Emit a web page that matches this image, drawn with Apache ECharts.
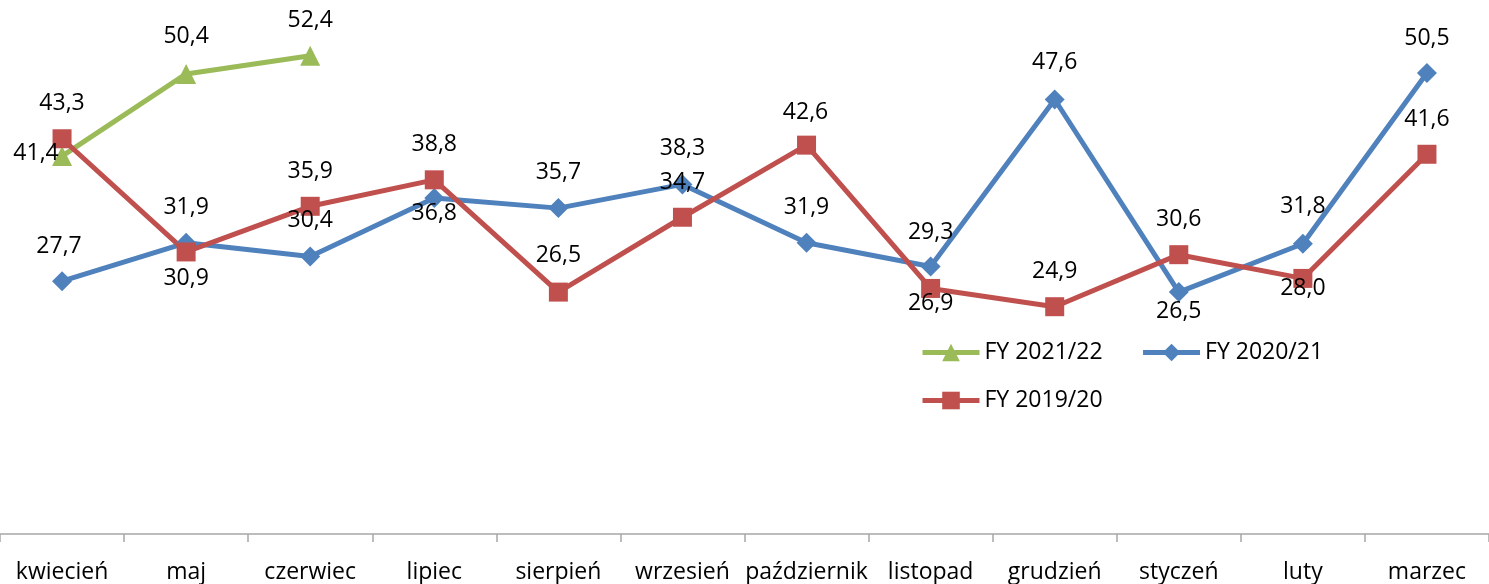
<!DOCTYPE html>
<html>
<head>
<meta charset="utf-8">
<script src="https://cdn.jsdelivr.net/npm/echarts@6/dist/echarts.min.js"></script>
<style>html,body{margin:0;padding:0;background:#fff;}#c{width:1489px;height:584px;}</style>
</head>
<body>
<div id="c"></div>
<script>
const categories = ['kwiecień','maj','czerwiec','lipiec','sierpień','wrzesień','październik','listopad','grudzień','styczeń','luty','marzec'];
const fy2122 = [41.4, 50.4, 52.4];
const fy2021 = [27.7, 31.9, 30.4, 36.8, 35.7, 38.3, 31.9, 29.3, 47.6, 26.5, 31.8, 50.5];
const fy1920 = [43.3, 30.9, 35.9, 38.8, 26.5, 34.7, 42.6, 26.9, 24.9, 30.6, 28.0, 41.6];
const seriesNames = ['FY 2021/22', 'FY 2020/21', 'FY 2019/20'];

// label offsets (style only)
const offG = [[-26,-3],[0,-37],[0,-35]];
const offB = [[-3,-35],[0,-35],[0,-36],[0,15],[0,-36],[0,-36],[0,-35],[0,-34],[0,-37],[0,19],[0,-37],[0,-35]];
const offR = [[0,-35],[0,27],[0,-35],[0,-35],[0,-37],[0,-35],[-1,-33],[0,15],[0,-35],[0,-35],[0,10],[0,-35]];

const FONT = '"Open Sans", sans-serif';
const fmt = v => v.toFixed(1).replace('.', ',');
function items(vals, offs) {
  return vals.map((v, i) => ({ value: v, label: { offset: offs[i] } }));
}
function mk(name, vals, offs, color, symbol, size) {
  return {
    name: name, type: 'line', data: items(vals, offs),
    symbol: symbol, symbolSize: size, showAllSymbol: true,
    lineStyle: { color: color, width: 5 },
    itemStyle: { color: color },
    label: { show: true, position: 'inside', color: '#000', fontFamily: FONT, fontSize: 23,
             formatter: p => fmt(p.value) },
    emphasis: { disabled: true },
    animation: false
  };
}
const legendCommon = {
  itemWidth: 57, itemHeight: 22, itemGap: 38,
  lineStyle: { width: 5 },
  textStyle: { color: '#000', fontFamily: FONT, fontSize: 23 }
};
const chart = echarts.init(document.getElementById('c'));
chart.setOption({
  backgroundColor: '#fff',
  animation: false,
  grid: { left: 0, right: 0, top: 0, bottom: 48 },
  xAxis: {
    type: 'category', data: categories, boundaryGap: true,
    axisLine: { lineStyle: { color: '#a6a6a6', width: 1.5 } },
    axisTick: { show: true, length: 8, lineStyle: { color: '#a6a6a6', width: 1.5 } },
    axisLabel: { color: '#000', fontFamily: FONT, fontSize: 23, margin: 27, interval: 0 }
  },
  yAxis: { type: 'value', min: 0, max: 58.5, show: false, splitLine: { show: false } },
  legend: [
    Object.assign({ data: [seriesNames[0], seriesNames[1]], left: 915, top: 336 }, legendCommon),
    Object.assign({ data: [seriesNames[2]], left: 915, top: 384 }, legendCommon)
  ],
  series: [
    mk(seriesNames[0], fy2122, offG, '#9BBB59', 'triangle', 20),
    mk(seriesNames[1], fy2021, offB, '#4F81BD', 'diamond', 20),
    mk(seriesNames[2], fy1920, offR, '#C0504D', 'rect', 19)
  ]
});
</script>
</body>
</html>
